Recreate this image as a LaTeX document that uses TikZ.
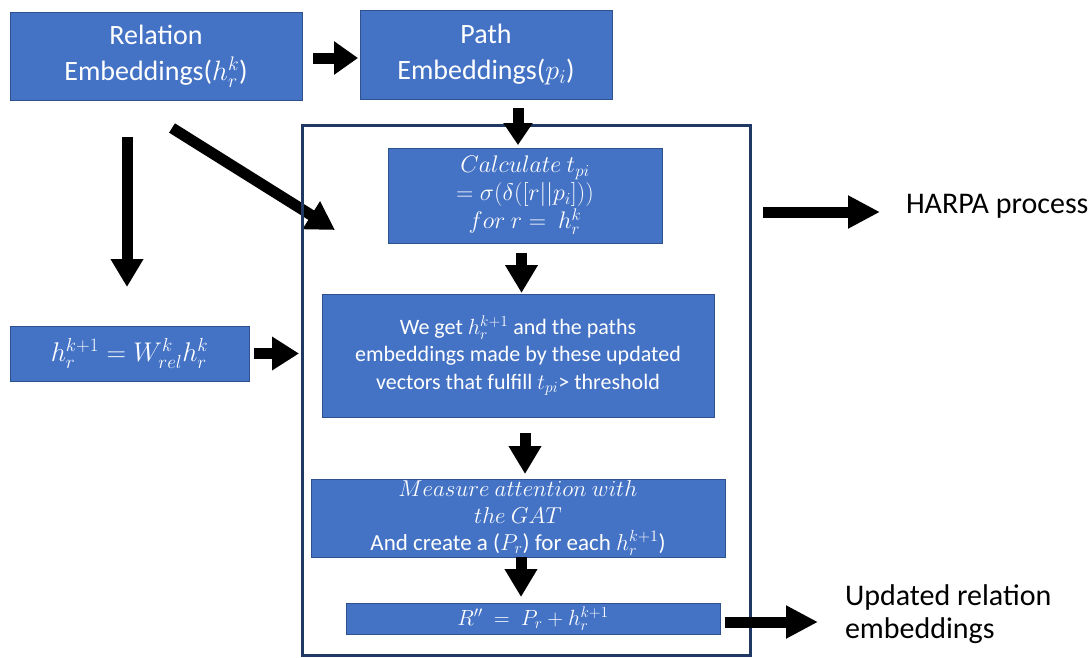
\RequirePackage{fix-cm}
\documentclass[tikz,border=0pt]{standalone}
\usepackage{fontspec}
\setmainfont{Carlito}
\usetikzlibrary{arrows.meta}
\definecolor{boxblue}{HTML}{4472C4}
\definecolor{boxline}{HTML}{2F528F}
\definecolor{navy}{HTML}{1F3864}
\begin{document}
\begin{tikzpicture}[x=1pt,y=-1pt,
  box/.style={draw=boxline, fill=boxblue, line width=1pt, text=white, align=center, inner sep=0pt, outer sep=0pt},
  blk/.style={line width=11pt, -{Triangle[length=28pt,width=31pt]}},
  plain/.style={inner sep=0pt, outer sep=0pt, text=black}]
\useasboundingbox (0,0) rectangle (1092,657);
% top boxes
\node[box, minimum width=292pt, minimum height=88pt, font=\fontsize{28}{36}\selectfont] (rel) at (156,56) {Relation\\Embeddings($h_r^k$)};
\node[box, minimum width=252pt, minimum height=89pt, font=\fontsize{28}{36}\selectfont] (path) at (486,54.5) {Path\\Embeddings($p_i$)};
\node[box, minimum width=239pt, minimum height=55pt, font=\fontsize{27}{30}\selectfont] (hbox) at (129.5,353.5) {$h_r^{k+1} = W_{rel}^k h_r^k$};
% frame placeholder
\path node[minimum width=448pt, minimum height=530pt, inner sep=0pt, outer sep=0pt] (frame) at (526,390) {};
% diagonal arrow (under frame line)
\draw[blk] ([shift={(16pt,-28pt)}]rel.south) -- ([shift={(33pt,-105pt)}]frame.north west);
\draw[navy, line width=3pt] (frame.north west) rectangle (frame.south east);
% inner boxes
\node[box, minimum width=274pt, minimum height=95pt, font=\fontsize{24}{28}\selectfont] (calc) at (525,195.5)
  {$Calculate\ t_{pi}$\\$=\sigma(\delta([r||p_i]))$\\$for\ r=\ h_r^k$};
\node[box, minimum width=392pt, minimum height=123pt, font=\fontsize{22}{27.5}\selectfont] (get) at (518,355.5)
  {We get $h_r^{k+1}$ and the paths\\embeddings made by these updated\\vectors that fulfill $t_{pi}$> threshold};
\node[box, minimum width=414pt, minimum height=78pt, font=\fontsize{23}{27}\selectfont] (meas) at (518,518)
  {$Measure\ attention\ with$\\$the\ GAT$\\And create a ($P_r$) for each $h_r^{k+1}$)};
\node[box, minimum width=374pt, minimum height=31pt, font=\fontsize{22}{26}\selectfont] (rpp) at (533,618.5)
  {$R''\ =\ P_r+h_r^{k+1}$};
% outside texts
\node[plain, anchor=west, font=\fontsize{30}{33}\selectfont] (harpa) at (906,206) {HARPA process};
\node[plain, anchor=west, align=left, font=\fontsize{30}{33}\selectfont] (upd) at (845,614) {Updated relation\\embeddings};
% arrows
\draw[blk, -{Triangle[length=24pt,width=32pt]}] ([shift={(11pt,-2pt)}]rel.east) -- ([shift={(-2pt,-3.5pt)}]path.west);
\draw[blk, -{Triangle[length=22pt,width=28pt]}] ([shift={(32pt,-9pt)}]path.south) -- ([shift={(-7pt,3pt)}]calc.north);
\draw[blk] ([shift={(-29pt,-37pt)}]rel.south) -- ([shift={(-2.5pt,39pt)}]hbox.north);
\coordinate (fw) at (frame.west |- hbox.east);
\draw[blk, -{Triangle[length=27pt,width=32pt]}] ([xshift=5pt]hbox.east) -- ([xshift=-3pt]fw);
\draw[blk] ([shift={(-3.5pt,-10pt)}]calc.south) -- ([shift={(3.5pt,1pt)}]get.north);
\draw[blk] ([shift={(7pt,-16pt)}]get.south) -- ([shift={(7pt,5pt)}]meas.north);
\draw[blk] ([shift={(3pt,0pt)}]meas.south) -- ([shift={(-12pt,6pt)}]rpp.north);
\coordinate (ha) at (frame.east |- harpa.west);
\draw[blk, -{Triangle[length=32pt,width=31pt]}] ([shift={(13pt,-6pt)}]ha) -- ([shift={(-26pt,-6pt)}]harpa.west);
\draw[blk, -{Triangle[length=32pt,width=31pt]}] ([shift={(5pt,-3.5pt)}]rpp.east) -- ([shift={(-27pt,-8pt)}]upd.west);
\end{tikzpicture}
\end{document}
